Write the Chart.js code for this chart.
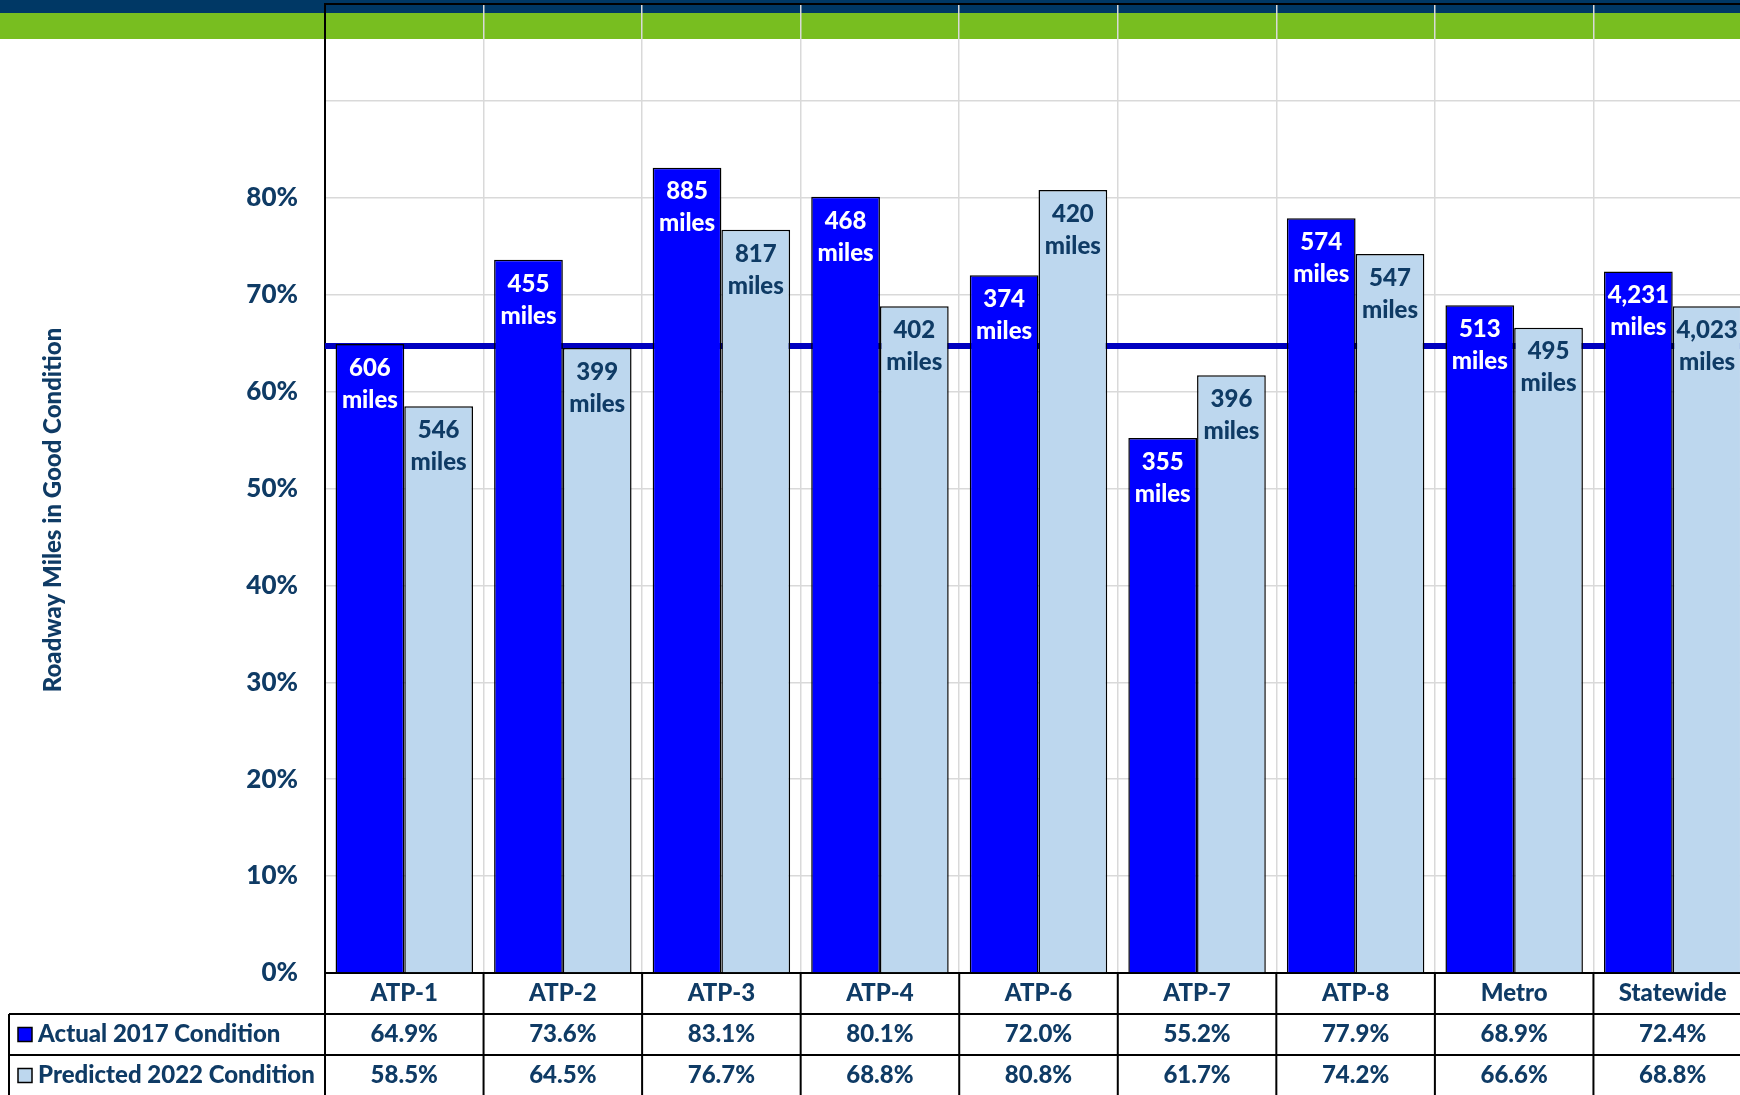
<!DOCTYPE html>
<html>
<head>
<meta charset="utf-8">
<script src="https://cdn.jsdelivr.net/npm/chart.js@4.4.1/dist/chart.umd.min.js"></script>
<style>
  html, body { margin: 0; padding: 0; background: #fff; overflow: hidden; }
  #wrap { position: relative; width: 1740px; height: 1095px; overflow: hidden; }
  .band-navy { position: absolute; left: 0; top: 0; width: 100%; height: 13px; background: #003865; }
  .band-green { position: absolute; left: 0; top: 13px; width: 100%; height: 26px; background: #78be20; }
  canvas { position: absolute; left: 0; top: 0; }
</style>
</head>
<body>
<div id="wrap">
  <div class="band-navy"></div>
  <div class="band-green"></div>
  <canvas id="chart" width="1760" height="1095"></canvas>
</div>
<script>
const categories = ["ATP-1", "ATP-2", "ATP-3", "ATP-4", "ATP-6", "ATP-7", "ATP-8", "Metro", "Statewide"];
const actual2017 = [64.9, 73.6, 83.1, 80.1, 72.0, 55.2, 77.9, 68.9, 72.4];
const predicted2022 = [58.5, 64.5, 76.7, 68.8, 80.8, 61.7, 74.2, 66.6, 68.8];
const actualMiles = [606, 455, 885, 468, 374, 355, 574, 513, 4231];
const predictedMiles = [546, 399, 817, 402, 420, 396, 547, 495, 4023];
const targetLine = 64.7;

const navy = "#0f3b65";
const fontFamily = "Lato, 'Open Sans', sans-serif";
const heavy = "900 ";

// target line drawn behind the bars
const targetPlugin = {
    id: "targetLine",
    beforeDatasetsDraw(chart) {
        const { ctx, chartArea, scales: { y } } = chart;
        const py = y.getPixelForValue(targetLine);
        ctx.save();
        ctx.strokeStyle = "#0000c0";
        ctx.lineWidth = 6;
        ctx.beginPath();
        ctx.moveTo(chartArea.left, py);
        ctx.lineTo(chartArea.right, py);
        ctx.stroke();
        ctx.restore();
    },
};

// "606 / miles" labels inside the top of each bar
const mileLabels = {
    id: "mileLabels",
    afterDatasetsDraw(chart) {
        const { ctx } = chart;
        const miles = [actualMiles, predictedMiles];
        const colors = ["#ffffff", navy];
        ctx.save();
        ctx.font = heavy + "24px " + fontFamily;
        ctx.textAlign = "center";
        ctx.textBaseline = "middle";
        chart.data.datasets.forEach((ds, d) => {
            chart.getDatasetMeta(d).data.forEach((bar, i) => {
                ctx.fillStyle = colors[d];
                ctx.fillText(miles[d][i].toLocaleString("en-US"), bar.x, bar.y + 24);
                ctx.fillText("miles", bar.x, bar.y + 56);
            });
        });
        ctx.restore();
    },
};

// data table under the plot, plus top border and axis title
const dataTable = {
    id: "dataTable",
    afterDraw(chart) {
        const { ctx, chartArea, scales: { x } } = chart;
        const n = categories.length;
        const cw = (chartArea.right - chartArea.left) / n;
        const top = chartArea.bottom;
        const rowH = 41;
        const bottom = top + rowH * 3;
        const tableLeft = 9;

        ctx.save();
        ctx.strokeStyle = "#000";
        ctx.lineWidth = 2;
        ctx.beginPath();
        ctx.moveTo(chartArea.left, chartArea.top);
        ctx.lineTo(chartArea.right, chartArea.top);
        [1, 2, 3].forEach((r) => {
            ctx.moveTo(tableLeft, top + r * rowH);
            ctx.lineTo(chartArea.right, top + r * rowH);
        });
        for (let i = 0; i <= n; i++) {
            const bx = chartArea.left + i * cw;
            ctx.moveTo(bx, top);
            ctx.lineTo(bx, bottom);
        }
        ctx.moveTo(tableLeft, top + rowH);
        ctx.lineTo(tableLeft, bottom);
        ctx.stroke();

        ctx.font = heavy + "24px " + fontFamily;
        ctx.fillStyle = navy;
        ctx.textAlign = "center";
        ctx.textBaseline = "middle";
        categories.forEach((c, i) => {
            const cx = x.getPixelForValue(i);
            ctx.fillText(c, cx, top + rowH * 0.5);
            ctx.fillText(actual2017[i].toFixed(1) + "%", cx, top + rowH * 1.5);
            ctx.fillText(predicted2022[i].toFixed(1) + "%", cx, top + rowH * 2.5);
        });

        chart.data.datasets.forEach((ds, d) => {
            const cy = top + rowH * (1.5 + d);
            ctx.fillStyle = ds.backgroundColor;
            ctx.fillRect(18, cy - 7, 14, 14);
            ctx.lineWidth = 1.5;
            ctx.strokeRect(18, cy - 7, 14, 14);
            ctx.fillStyle = navy;
            ctx.textAlign = "left";
            ctx.fillText(ds.label, 38, cy);
        });

        // y axis title
        ctx.translate(53, 510);
        ctx.rotate(-Math.PI / 2);
        ctx.textAlign = "center";
        ctx.font = heavy + "24px " + fontFamily;
        ctx.fillText("Roadway Miles in Good Condition", 0, 0);
        ctx.restore();
    },
};

new Chart(document.getElementById("chart"), {
    type: "bar",
    data: {
        labels: categories,
        datasets: [
            {
                label: "Actual 2017 Condition",
                data: actual2017,
                backgroundColor: "#0000ff",
                borderColor: "#000",
                borderWidth: 1.5,
            },
            {
                label: "Predicted 2022 Condition",
                data: predicted2022,
                backgroundColor: "#bdd7ee",
                borderColor: "#000",
                borderWidth: 1.5,
            },
        ],
    },
    options: {
        responsive: false,
        animation: false,
        events: [],
        categoryPercentage: 0.867,
        barPercentage: 1.0,
        layout: { padding: { top: 4, right: 8, bottom: 122, left: 0 } },
        plugins: { legend: { display: false }, tooltip: { enabled: false } },
        scales: {
            x: {
                ticks: { display: false },
                grid: { color: "#d9d9d9", lineWidth: 1.5, drawTicks: false },
                border: { color: "#000", width: 2 },
            },
            y: {
                min: 0,
                max: 100,
                ticks: {
                    stepSize: 10,
                    padding: 27,
                    color: navy,
                    font: { family: fontFamily, size: 26, weight: "900" },
                    callback: (v) => (v <= 80 ? v + "%" : ""),
                },
                grid: { color: "#d9d9d9", lineWidth: 1.5, drawTicks: false },
                border: { color: "#000", width: 2 },
                afterFit(scale) {
                    scale.width = 325;
                    scale.paddingTop = 0;
                    scale.paddingBottom = 0;
                },
            },
        },
    },
    plugins: [targetPlugin, mileLabels, dataTable],
});
</script>
</body>
</html>
